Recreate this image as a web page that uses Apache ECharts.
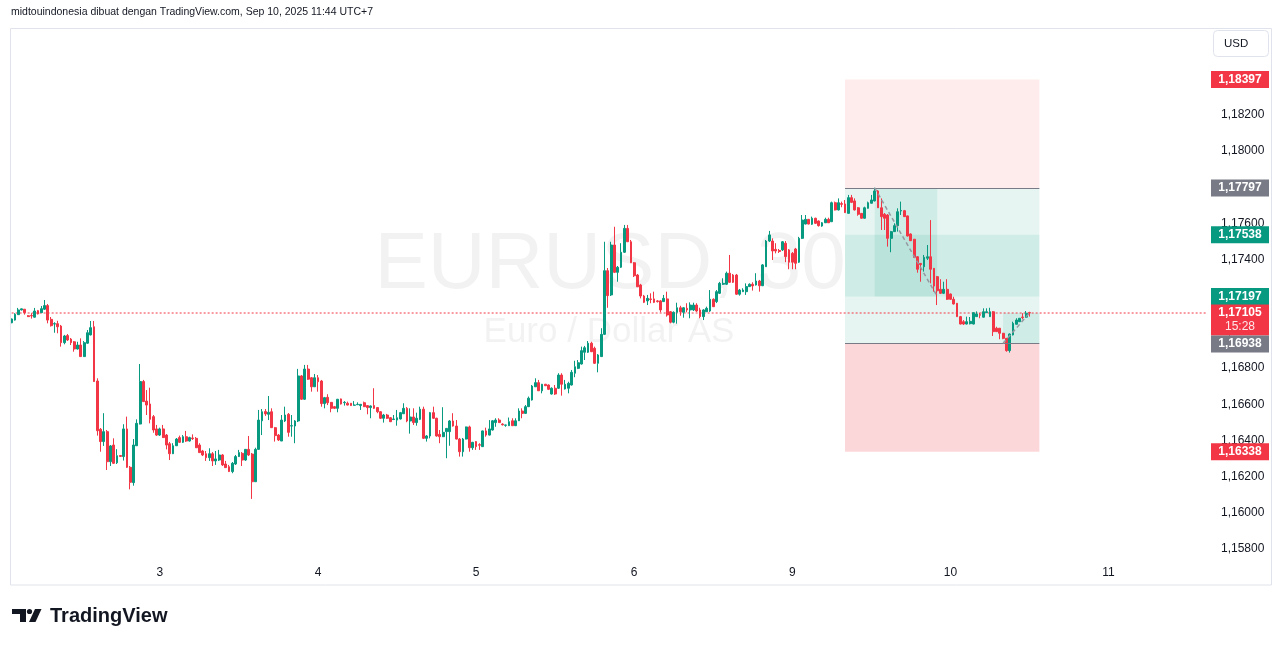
<!DOCTYPE html>
<html><head><meta charset="utf-8">
<script src="https://cdn.jsdelivr.net/npm/echarts@6/dist/echarts.min.js"></script>
<style>html,body{margin:0;padding:0;background:#fff;}#c{width:1281px;height:646px;}</style>
</head><body><div id="c"></div>
<script>
// ---- data ----
const slotCount = 364;               // 30-minute slots on the time axis (incl. empty future space)
const dayTickIndex = [45, 93, 141, 189, 237, 285, 333];
const dayTickLabels = ['3', '4', '5', '6', '9', '10', '11'];
// [open, close, low, high]
const candles = [
[1.17051,1.17072,1.17049,1.17074],[1.17066,1.17098,1.17063,1.17104],[1.17096,1.17122,1.17094,1.17133],[1.17122,1.17128,1.17119,1.17130],[1.17126,1.17107,1.17096,1.17127],
[1.17090,1.17085,1.17083,1.17094],[1.17091,1.17089,1.17074,1.17104],[1.17082,1.17116,1.17080,1.17133],[1.17118,1.17100,1.17097,1.17122],[1.17107,1.17129,1.17105,1.17144],
[1.17126,1.17146,1.17122,1.17177],[1.17146,1.17066,1.17048,1.17155],[1.17070,1.17035,1.17030,1.17083],[1.17044,1.17046,1.16996,1.17054],[1.17046,1.17029,1.16993,1.17062],
[1.17033,1.16941,1.16919,1.17039],[1.16941,1.16978,1.16932,1.16984],[1.16980,1.16956,1.16950,1.16989],[1.16961,1.16941,1.16928,1.16967],[1.16946,1.16906,1.16891,1.16950],
[1.16906,1.16928,1.16903,1.16946],[1.16928,1.16864,1.16862,1.16965],[1.16864,1.16941,1.16862,1.16950],[1.16938,1.16996,1.16934,1.17011],[1.16984,1.17024,1.16981,1.17061],
[1.17029,1.16726,1.16724,1.17061],[1.16729,1.16454,1.16427,1.16744],[1.16462,1.16394,1.16338,1.16469],[1.16394,1.16449,1.16370,1.16551],[1.16449,1.16283,1.16237,1.16458],
[1.16283,1.16370,1.16259,1.16375],[1.16375,1.16274,1.16270,1.16412],[1.16277,1.16316,1.16270,1.16352],[1.16317,1.16312,1.16309,1.16320],[1.16311,1.16464,1.16289,1.16490],
[1.16464,1.16252,1.16248,1.16532],[1.16252,1.16169,1.16130,1.16259],[1.16167,1.16375,1.16150,1.16408],[1.16371,1.16495,1.16370,1.16517],[1.16491,1.16726,1.16489,1.16823],
[1.16726,1.16615,1.16613,1.16735],[1.16618,1.16596,1.16541,1.16679],[1.16602,1.16517,1.16495,1.16692],[1.16532,1.16458,1.16443,1.16541],[1.16464,1.16430,1.16425,1.16486],
[1.16430,1.16464,1.16425,1.16471],[1.16464,1.16416,1.16414,1.16486],[1.16430,1.16375,1.16351,1.16436],[1.16382,1.16327,1.16292,1.16392],[1.16327,1.16371,1.16325,1.16385],
[1.16371,1.16408,1.16370,1.16414],[1.16416,1.16390,1.16386,1.16427],[1.16390,1.16421,1.16386,1.16430],[1.16421,1.16397,1.16392,1.16453],[1.16397,1.16416,1.16394,1.16421],
[1.16414,1.16410,1.16403,1.16434],[1.16412,1.16360,1.16359,1.16419],[1.16375,1.16333,1.16331,1.16385],[1.16342,1.16320,1.16314,1.16348],[1.16327,1.16305,1.16287,1.16342],
[1.16305,1.16327,1.16287,1.16357],[1.16327,1.16287,1.16259,1.16336],[1.16287,1.16298,1.16265,1.16342],[1.16292,1.16320,1.16287,1.16348],[1.16320,1.16265,1.16259,1.16325],
[1.16270,1.16250,1.16248,1.16287],[1.16255,1.16228,1.16226,1.16265],[1.16228,1.16274,1.16219,1.16281],[1.16270,1.16311,1.16265,1.16320],[1.16311,1.16333,1.16309,1.16348],
[1.16329,1.16292,1.16259,1.16336],[1.16292,1.16351,1.16287,1.16353],[1.16351,1.16320,1.16314,1.16425],[1.16325,1.16172,1.16077,1.16331],[1.16172,1.16351,1.16171,1.16360],
[1.16351,1.16513,1.16348,1.16569],[1.16509,1.16559,1.16430,1.16574],[1.16560,1.16547,1.16536,1.16574],[1.16545,1.16556,1.16513,1.16646],[1.16559,1.16471,1.16469,1.16578],
[1.16471,1.16427,1.16394,1.16475],[1.16430,1.16403,1.16397,1.16436],[1.16397,1.16513,1.16397,1.16541],[1.16508,1.16541,1.16502,1.16587],[1.16545,1.16445,1.16421,1.16552],
[1.16480,1.16482,1.16421,1.16541],[1.16480,1.16508,1.16385,1.16513],[1.16508,1.16757,1.16502,1.16796],[1.16757,1.16628,1.16624,1.16762],[1.16628,1.16795,1.16624,1.16818],
[1.16795,1.16739,1.16735,1.16818],[1.16747,1.16697,1.16670,1.16751],[1.16697,1.16747,1.16696,1.16768],[1.16747,1.16725,1.16670,1.16762],[1.16729,1.16604,1.16587,1.16735],
[1.16604,1.16637,1.16578,1.16641],[1.16639,1.16609,1.16596,1.16656],[1.16611,1.16578,1.16556,1.16613],[1.16587,1.16578,1.16574,1.16591],[1.16578,1.16628,1.16556,1.16630],
[1.16630,1.16602,1.16599,1.16632],[1.16609,1.16611,1.16593,1.16618],[1.16606,1.16596,1.16594,1.16615],[1.16606,1.16593,1.16591,1.16607],[1.16595,1.16596,1.16593,1.16618],
[1.16598,1.16600,1.16596,1.16611],[1.16593,1.16600,1.16569,1.16602],[1.16609,1.16587,1.16585,1.16615],[1.16593,1.16582,1.16545,1.16596],[1.16582,1.16591,1.16523,1.16594],
[1.16593,1.16578,1.16574,1.16689],[1.16582,1.16559,1.16551,1.16585],[1.16559,1.16523,1.16519,1.16563],[1.16523,1.16541,1.16499,1.16547],[1.16541,1.16523,1.16519,1.16547],
[1.16526,1.16504,1.16502,1.16530],[1.16516,1.16519,1.16513,1.16541],[1.16513,1.16526,1.16482,1.16569],[1.16519,1.16554,1.16516,1.16558],[1.16548,1.16578,1.16547,1.16606],
[1.16578,1.16508,1.16501,1.16585],[1.16508,1.16530,1.16438,1.16578],[1.16530,1.16499,1.16486,1.16578],[1.16499,1.16523,1.16482,1.16554],[1.16517,1.16573,1.16513,1.16587],
[1.16573,1.16412,1.16408,1.16587],[1.16412,1.16425,1.16394,1.16430],[1.16425,1.16554,1.16412,1.16558],[1.16554,1.16523,1.16519,1.16587],[1.16523,1.16425,1.16421,1.16526],
[1.16434,1.16421,1.16385,1.16458],[1.16421,1.16445,1.16419,1.16584],[1.16449,1.16467,1.16302,1.16469],[1.16449,1.16508,1.16371,1.16513],[1.16508,1.16480,1.16477,1.16551],
[1.16480,1.16408,1.16406,1.16513],[1.16408,1.16338,1.16311,1.16414],[1.16338,1.16408,1.16311,1.16414],[1.16408,1.16475,1.16406,1.16477],[1.16475,1.16360,1.16338,1.16482],
[1.16360,1.16390,1.16348,1.16392],[1.16394,1.16366,1.16348,1.16397],[1.16377,1.16374,1.16348,1.16385],[1.16366,1.16453,1.16364,1.16455],[1.16453,1.16430,1.16421,1.16471],
[1.16430,1.16464,1.16428,1.16513],[1.16458,1.16509,1.16455,1.16513],[1.16499,1.16513,1.16476,1.16523],[1.16513,1.16499,1.16497,1.16523],[1.16491,1.16487,1.16483,1.16495],
[1.16484,1.16486,1.16476,1.16487],[1.16482,1.16504,1.16480,1.16527],[1.16509,1.16482,1.16480,1.16523],[1.16482,1.16509,1.16480,1.16523],[1.16509,1.16563,1.16508,1.16578],
[1.16563,1.16550,1.16523,1.16578],[1.16550,1.16587,1.16547,1.16596],[1.16587,1.16634,1.16585,1.16643],[1.16624,1.16701,1.16621,1.16707],[1.16697,1.16720,1.16696,1.16744],
[1.16720,1.16675,1.16674,1.16735],[1.16675,1.16711,1.16661,1.16713],[1.16711,1.16703,1.16701,1.16713],[1.16707,1.16683,1.16679,1.16710],[1.16657,1.16689,1.16654,1.16694],
[1.16689,1.16657,1.16652,1.16707],[1.16689,1.16762,1.16685,1.16772],[1.16762,1.16711,1.16648,1.16772],[1.16685,1.16711,1.16682,1.16735],[1.16689,1.16716,1.16661,1.16725],
[1.16707,1.16777,1.16704,1.16790],[1.16772,1.16808,1.16750,1.16841],[1.16799,1.16830,1.16795,1.16845],[1.16823,1.16897,1.16820,1.16919],[1.16888,1.16913,1.16845,1.16923],
[1.16888,1.16938,1.16884,1.16950],[1.16938,1.16891,1.16889,1.16946],[1.16910,1.16827,1.16823,1.16919],[1.16827,1.16873,1.16777,1.16878],[1.16864,1.16987,1.16862,1.17021],
[1.16987,1.17339,1.16983,1.17499],[1.17339,1.17201,1.17134,1.17354],[1.17205,1.17481,1.17199,1.17499],[1.17481,1.17330,1.17326,1.17582],[1.17330,1.17358,1.17278,1.17365],
[1.17358,1.17441,1.17354,1.17491],[1.17441,1.17573,1.17437,1.17592],[1.17573,1.17499,1.17498,1.17592],[1.17499,1.17383,1.17382,1.17509],[1.17383,1.17311,1.17304,1.17387],
[1.17315,1.17250,1.17249,1.17321],[1.17260,1.17199,1.17186,1.17266],[1.17199,1.17164,1.17160,1.17205],[1.17172,1.17186,1.17149,1.17205],[1.17183,1.17180,1.17159,1.17214],
[1.17183,1.17164,1.17160,1.17223],[1.17172,1.17168,1.17163,1.17177],[1.17172,1.17122,1.17109,1.17177],[1.17168,1.17186,1.17166,1.17205],[1.17183,1.17094,1.17085,1.17223],
[1.17112,1.17054,1.17048,1.17116],[1.17054,1.17109,1.17048,1.17114],[1.17109,1.17134,1.17046,1.17162],[1.17134,1.17112,1.17090,1.17145],[1.17109,1.17134,1.17079,1.17138],
[1.17131,1.17122,1.17109,1.17159],[1.17122,1.17149,1.17076,1.17164],[1.17122,1.17149,1.17116,1.17162],[1.17149,1.17116,1.17111,1.17159],[1.17122,1.17085,1.17076,1.17134],
[1.17085,1.17122,1.17066,1.17127],[1.17112,1.17131,1.17111,1.17140],[1.17116,1.17181,1.17111,1.17232],[1.17181,1.17140,1.17138,1.17186],[1.17168,1.17223,1.17160,1.17232],
[1.17214,1.17269,1.17210,1.17277],[1.17264,1.17269,1.17260,1.17297],[1.17264,1.17325,1.17260,1.17334],[1.17325,1.17275,1.17271,1.17426],[1.17315,1.17275,1.17271,1.17321],
[1.17315,1.17209,1.17205,1.17321],[1.17209,1.17232,1.17201,1.17238],[1.17223,1.17232,1.17221,1.17242],[1.17223,1.17251,1.17205,1.17269],[1.17251,1.17264,1.17249,1.17269],
[1.17264,1.17255,1.17229,1.17275],[1.17260,1.17282,1.17257,1.17325],[1.17282,1.17256,1.17223,1.17288],[1.17256,1.17371,1.17254,1.17376],[1.17361,1.17503,1.17360,1.17509],
[1.17503,1.17537,1.17498,1.17559],[1.17503,1.17448,1.17398,1.17518],[1.17457,1.17448,1.17435,1.17491],[1.17451,1.17445,1.17437,1.17459],[1.17454,1.17499,1.17448,1.17503],
[1.17491,1.17417,1.17386,1.17503],[1.17454,1.17386,1.17347,1.17459],[1.17435,1.17386,1.17347,1.17442],[1.17459,1.17380,1.17347,1.17465],[1.17386,1.17518,1.17382,1.17526],
[1.17518,1.17619,1.17514,1.17647],[1.17597,1.17623,1.17595,1.17647],[1.17623,1.17597,1.17595,1.17625],[1.17596,1.17629,1.17592,1.17638],[1.17629,1.17601,1.17597,1.17632],
[1.17614,1.17588,1.17583,1.17617],[1.17586,1.17604,1.17582,1.17608],[1.17604,1.17623,1.17603,1.17632],[1.17623,1.17604,1.17603,1.17632],[1.17610,1.17715,1.17608,1.17721],
[1.17715,1.17675,1.17672,1.17721],[1.17675,1.17715,1.17672,1.17739],[1.17710,1.17706,1.17690,1.17721],[1.17708,1.17660,1.17658,1.17730],[1.17656,1.17743,1.17655,1.17758],
[1.17743,1.17717,1.17713,1.17758],[1.17725,1.17675,1.17672,1.17739],[1.17687,1.17651,1.17643,1.17691],[1.17656,1.17629,1.17627,1.17658],[1.17629,1.17687,1.17627,1.17693],
[1.17684,1.17715,1.17682,1.17721],[1.17712,1.17730,1.17711,1.17758],[1.17725,1.17780,1.17722,1.17798],[1.17780,1.17687,1.17686,1.17785],[1.17687,1.17638,1.17564,1.17739],
[1.17651,1.17629,1.17564,1.17658],[1.17647,1.17518,1.17472,1.17652],[1.17518,1.17555,1.17441,1.17559],[1.17555,1.17588,1.17553,1.17601],[1.17588,1.17665,1.17555,1.17684],
[1.17669,1.17672,1.17647,1.17721],[1.17671,1.17638,1.17636,1.17675],[1.17642,1.17531,1.17528,1.17644],[1.17542,1.17505,1.17503,1.17545],[1.17513,1.17413,1.17412,1.17514],
[1.17416,1.17347,1.17328,1.17420],[1.17379,1.17373,1.17278,1.17382],[1.17361,1.17413,1.17334,1.17426],[1.17408,1.17416,1.17398,1.17481],[1.17416,1.17347,1.17269,1.17619],
[1.17352,1.17254,1.17223,1.17354],[1.17306,1.17228,1.17149,1.17310],[1.17236,1.17214,1.17210,1.17292],[1.17214,1.17236,1.17210,1.17278],[1.17236,1.17181,1.17177,1.17292],
[1.17210,1.17181,1.17177,1.17213],[1.17181,1.17155,1.17152,1.17195],[1.17159,1.17085,1.17083,1.17160],[1.17085,1.17044,1.17042,1.17089],[1.17057,1.17044,1.17039,1.17066],
[1.17044,1.17057,1.17042,1.17085],[1.17046,1.17059,1.17042,1.17083],[1.17044,1.17107,1.17042,1.17108],[1.17085,1.17100,1.17083,1.17114],[1.17096,1.17093,1.17076,1.17107],
[1.17082,1.17112,1.17080,1.17131],[1.17107,1.17112,1.17105,1.17131],[1.17085,1.17112,1.17083,1.17134],[1.17112,1.17002,1.16978,1.17116],[1.17021,1.17002,1.17000,1.17029],
[1.17021,1.16993,1.16960,1.17022],[1.16993,1.16965,1.16960,1.16995],[1.16965,1.16897,1.16891,1.16967],[1.16897,1.16989,1.16886,1.16992],[1.16984,1.17048,1.16981,1.17057],
[1.17043,1.17066,1.17042,1.17076],[1.17057,1.17076,1.17055,1.17077],[1.17083,1.17080,1.17070,1.17104],[1.17082,1.17104,1.17080,1.17116],[1.17107,1.17105,1.17085,1.17112]
];
const lastPrice = 1.17105;
const countdown = '15:28';
// position tool (drawing) levels and time slots
const posStart = 253, posEnd = 312;
const posStop = 1.18397, posEntryTop = 1.17797, posBandTop = 1.17538, posBandBottom = 1.17197, posEntryBottom = 1.16938, posStop2 = 1.16338;
const pathA = [[262, 1.17797], [281, 1.17197]];
const pathB = [[301, 1.16938], [309, 1.17105]];
const boxA = [262, 281];
const boxB = [301, 312];
const priceTags = [
  { price: 1.18397, kind: 'red' },
  { price: 1.17797, kind: 'gray' },
  { price: 1.17538, kind: 'green' },
  { price: 1.17197, kind: 'green' }
];
const lowerTags = [
  { price: 1.16938, kind: 'gray' },
  { price: 1.16338, kind: 'red' }
];
const headerText = 'midtouindonesia dibuat dengan TradingView.com, Sep 10, 2025 11:44 UTC+7';
const symbolText = 'EURUSD, 30';
const descText = 'Euro / Dollar AS';
const currencyText = 'USD';

// ---- chart ----
const UP = '#089981', DOWN = '#f23645', GRAY = '#787b86', TXT = '#131722';
const tagColor = { red: DOWN, green: UP, gray: GRAY };
const FONT = '"Liberation Sans", Arial, sans-serif';
const fmt = v => v.toFixed(5).replace('.', ',');
const cats = Array.from({ length: slotCount }, (_, i) => String(i));

const chart = echarts.init(document.getElementById('c'), null, { renderer: 'canvas' });
const teal = a => 'rgba(8,153,129,' + a + ')';
const pink = a => 'rgba(242,54,69,' + a + ')';

chart.setOption({
  animation: false,
  backgroundColor: '#ffffff',
  grid: { left: 10, right: 72, top: 6.5, bottom: 60.83, containLabel: false },
  xAxis: {
    type: 'category', data: cats, boundaryGap: true,
    axisLine: { show: false }, axisTick: { show: false }, splitLine: { show: false },
    axisLabel: {
      inside: true, margin: 6, color: TXT, fontSize: 12, fontFamily: FONT,
      interval: (i) => dayTickIndex.indexOf(i) >= 0,
      formatter: (v, i) => { const k = dayTickIndex.indexOf(i); return k >= 0 ? dayTickLabels[k] : ''; }
    }
  },
  yAxis: {
    type: 'value', position: 'right', min: 1.156, max: 1.188, interval: 0.002,
    axisLine: { show: false }, axisTick: { show: false }, splitLine: { show: false },
    axisLabel: {
      margin: 12, color: TXT, fontSize: 12, fontFamily: FONT,
      formatter: v => (v > 1.1855 || v < 1.1575) ? '' : fmt(v)
    }
  },
  series: [{
    type: 'line',
    data: [[0, lastPrice], [slotCount - 1, lastPrice]],
    symbol: 'none', silent: true, z: 1,
    itemStyle: { color: DOWN },
    lineStyle: { color: DOWN, width: 1, type: [2, 2] }
  }, {
    type: 'candlestick',
    data: candles,
    barWidth: 2.3,
    silent: true,
    z: 3,
    itemStyle: { color: UP, color0: DOWN, borderColor: UP, borderColor0: DOWN, borderWidth: 1 },
    markArea: {
      silent: true,
      label: { show: false },
      data: [
        [{ xAxis: posStart, yAxis: posStop, itemStyle: { color: pink(0.1) } }, { xAxis: posEnd, yAxis: posEntryTop }],
        [{ xAxis: posStart, yAxis: posEntryTop, itemStyle: { color: teal(0.1) } }, { xAxis: posEnd, yAxis: posEntryBottom }],
        [{ xAxis: posStart, yAxis: posEntryBottom, itemStyle: { color: pink(0.2) } }, { xAxis: posEnd, yAxis: posStop2 }],
        [{ xAxis: posStart, yAxis: posBandTop, itemStyle: { color: teal(0.1) } }, { xAxis: posEnd, yAxis: posBandBottom }],
        [{ xAxis: boxA[0], yAxis: posEntryTop, itemStyle: { color: teal(0.1) } }, { xAxis: boxA[1], yAxis: posBandBottom }],
        [{ xAxis: boxB[0], yAxis: lastPrice, itemStyle: { color: teal(0.1) } }, { xAxis: boxB[1], yAxis: posEntryBottom }]
      ]
    },
    markLine: {
      silent: true, symbol: ['none', 'none'], label: { show: false }, precision: 6,
      data: [
        [{ coord: [posStart, posEntryTop], lineStyle: { color: GRAY, width: 1.2, type: 'solid' } }, { coord: [posEnd, posEntryTop] }],
        [{ coord: [posStart, posEntryBottom], lineStyle: { color: GRAY, width: 1.2, type: 'solid' } }, { coord: [posEnd, posEntryBottom] }],
        [{ coord: pathA[0], lineStyle: { color: '#9598a1', width: 1.5, type: [4, 3] } }, { coord: pathA[1] }],
        [{ coord: pathB[0], lineStyle: { color: '#9598a1', width: 1.5, type: [4, 3] } }, { coord: pathB[1] }]
      ]
    }
  }]
});

// ---- overlays positioned through the chart's own scales ----
const yPix = p => chart.convertToPixel({ yAxisIndex: 0 }, p);
const tagLeft = 1281 - 72 + 2;
const tagW = 58, tagH = 17;
const g = [];
function tag(top, h, color, lines) {
  g.push({ type: 'rect', z: 100, shape: { x: tagLeft, y: top, width: tagW, height: h }, style: { fill: color } });
  lines.forEach((ln, k) => {
    g.push({ type: 'text', z: 101, x: tagLeft + tagW / 2, y: top + 8.5 + k * 14,
      style: { text: ln.t, fill: ln.c || '#fff', font: (ln.b === false ? 'normal ' : 'bold ') + '12px ' + FONT, align: 'center', verticalAlign: 'middle' } });
  });
}
priceTags.forEach(t => tag(yPix(t.price) - tagH / 2, tagH, tagColor[t.kind], [{ t: fmt(t.price) }]));
const curTop = yPix(lastPrice) - tagH / 2;
tag(curTop, 31, DOWN, [{ t: fmt(lastPrice) }, { t: countdown, b: false, c: 'rgba(255,255,255,0.88)' }]);
let minTop = curTop + 31;
lowerTags.forEach(t => {
  let top = Math.max(yPix(t.price) - tagH / 2, minTop);
  tag(top, tagH, tagColor[t.kind], [{ t: fmt(t.price) }]);
  minTop = top + tagH;
});

// watermark
g.push({ type: 'text', z: 0, x: 610, y: 266, style: { text: symbolText, fill: 'rgba(19,23,34,0.055)', font: '80px ' + FONT, align: 'center', verticalAlign: 'middle' } });
g.push({ type: 'text', z: 0, x: 609, y: 332, style: { text: descText, fill: 'rgba(19,23,34,0.055)', font: '35px ' + FONT, align: 'center', verticalAlign: 'middle' } });
// frame
g.push({ type: 'rect', z: 50, shape: { x: 10.5, y: 28.5, width: 1261, height: 556.5 }, style: { fill: null, stroke: '#e0e3eb', lineWidth: 1 } });
// currency box
g.push({ type: 'rect', z: 60, shape: { x: 1213.5, y: 30.5, width: 55, height: 26, r: 4 }, style: { fill: '#fff', stroke: '#e0e3eb', lineWidth: 1 } });
g.push({ type: 'text', z: 61, x: 1224, y: 44, style: { text: currencyText, fill: TXT, font: '11.5px ' + FONT, verticalAlign: 'middle' } });
// header
g.push({ type: 'text', z: 60, x: 11, y: 12, style: { text: headerText, fill: TXT, font: '10.5px ' + FONT, verticalAlign: 'middle' } });
// TradingView logo
g.push({ type: 'rect', z: 60, shape: { x: 12, y: 609, width: 14, height: 5 }, style: { fill: TXT } });
g.push({ type: 'rect', z: 60, shape: { x: 20, y: 609, width: 6, height: 13 }, style: { fill: TXT } });
g.push({ type: 'circle', z: 60, shape: { cx: 29.5, cy: 611.5, r: 2.6 }, style: { fill: TXT } });
g.push({ type: 'polygon', z: 60, shape: { points: [[29, 622], [35, 609], [41.5, 609], [35.5, 622]] }, style: { fill: TXT } });
g.push({ type: 'text', z: 60, x: 50, y: 616, style: { text: 'TradingView', fill: TXT, font: 'bold 20px ' + FONT, verticalAlign: 'middle' } });

chart.setOption({ graphic: { elements: g } });
</script></body></html>
